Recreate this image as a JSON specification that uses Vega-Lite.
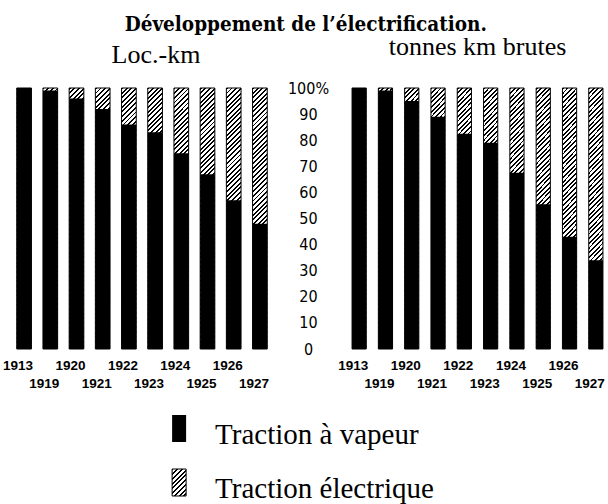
{
  "$schema": "https://vega.github.io/schema/vega-lite/v6.json",
  "background": "white",
  "padding": {"left": 2, "top": 14, "right": 0, "bottom": 0},
  "title": {"text": "Développement de l’électrification.", "font": "DejaVu Serif Condensed, DejaVu Serif", "fontSize": 20.5, "fontWeight": "bold", "color": "black", "anchor": "middle", "offset": -1},
  "params": [
    {"name": "hatch", "value": {
      "gradient": "linear", "x1": 0, "y1": 0, "x2": 0.0593, "y2": 1.053,
      "stops": [
        {"offset": 0, "color": "#000"}, {"offset": 0.007, "color": "#000"}, {"offset": 0.007, "color": "#fff"}, {"offset": 0.017, "color": "#fff"},
        {"offset": 0.017, "color": "#000"}, {"offset": 0.024, "color": "#000"}, {"offset": 0.024, "color": "#fff"}, {"offset": 0.034, "color": "#fff"},
        {"offset": 0.034, "color": "#000"}, {"offset": 0.041, "color": "#000"}, {"offset": 0.041, "color": "#fff"}, {"offset": 0.051, "color": "#fff"},
        {"offset": 0.051, "color": "#000"}, {"offset": 0.058, "color": "#000"}, {"offset": 0.058, "color": "#fff"}, {"offset": 0.068, "color": "#fff"},
        {"offset": 0.068, "color": "#000"}, {"offset": 0.075, "color": "#000"}, {"offset": 0.075, "color": "#fff"}, {"offset": 0.085, "color": "#fff"},
        {"offset": 0.085, "color": "#000"}, {"offset": 0.092, "color": "#000"}, {"offset": 0.092, "color": "#fff"}, {"offset": 0.102, "color": "#fff"},
        {"offset": 0.102, "color": "#000"}, {"offset": 0.109, "color": "#000"}, {"offset": 0.109, "color": "#fff"}, {"offset": 0.119, "color": "#fff"},
        {"offset": 0.119, "color": "#000"}, {"offset": 0.126, "color": "#000"}, {"offset": 0.126, "color": "#fff"}, {"offset": 0.136, "color": "#fff"},
        {"offset": 0.136, "color": "#000"}, {"offset": 0.143, "color": "#000"}, {"offset": 0.143, "color": "#fff"}, {"offset": 0.153, "color": "#fff"},
        {"offset": 0.153, "color": "#000"}, {"offset": 0.16, "color": "#000"}, {"offset": 0.16, "color": "#fff"}, {"offset": 0.17, "color": "#fff"},
        {"offset": 0.17, "color": "#000"}, {"offset": 0.177, "color": "#000"}, {"offset": 0.177, "color": "#fff"}, {"offset": 0.187, "color": "#fff"},
        {"offset": 0.187, "color": "#000"}, {"offset": 0.194, "color": "#000"}, {"offset": 0.194, "color": "#fff"}, {"offset": 0.204, "color": "#fff"},
        {"offset": 0.204, "color": "#000"}, {"offset": 0.211, "color": "#000"}, {"offset": 0.211, "color": "#fff"}, {"offset": 0.221, "color": "#fff"},
        {"offset": 0.221, "color": "#000"}, {"offset": 0.228, "color": "#000"}, {"offset": 0.228, "color": "#fff"}, {"offset": 0.238, "color": "#fff"},
        {"offset": 0.238, "color": "#000"}, {"offset": 0.245, "color": "#000"}, {"offset": 0.245, "color": "#fff"}, {"offset": 0.255, "color": "#fff"},
        {"offset": 0.255, "color": "#000"}, {"offset": 0.262, "color": "#000"}, {"offset": 0.262, "color": "#fff"}, {"offset": 0.272, "color": "#fff"},
        {"offset": 0.272, "color": "#000"}, {"offset": 0.279, "color": "#000"}, {"offset": 0.279, "color": "#fff"}, {"offset": 0.289, "color": "#fff"},
        {"offset": 0.289, "color": "#000"}, {"offset": 0.296, "color": "#000"}, {"offset": 0.296, "color": "#fff"}, {"offset": 0.306, "color": "#fff"},
        {"offset": 0.306, "color": "#000"}, {"offset": 0.313, "color": "#000"}, {"offset": 0.313, "color": "#fff"}, {"offset": 0.323, "color": "#fff"},
        {"offset": 0.323, "color": "#000"}, {"offset": 0.33, "color": "#000"}, {"offset": 0.33, "color": "#fff"}, {"offset": 0.34, "color": "#fff"},
        {"offset": 0.34, "color": "#000"}, {"offset": 0.347, "color": "#000"}, {"offset": 0.347, "color": "#fff"}, {"offset": 0.357, "color": "#fff"},
        {"offset": 0.357, "color": "#000"}, {"offset": 0.364, "color": "#000"}, {"offset": 0.364, "color": "#fff"}, {"offset": 0.374, "color": "#fff"},
        {"offset": 0.374, "color": "#000"}, {"offset": 0.381, "color": "#000"}, {"offset": 0.381, "color": "#fff"}, {"offset": 0.391, "color": "#fff"},
        {"offset": 0.391, "color": "#000"}, {"offset": 0.398, "color": "#000"}, {"offset": 0.398, "color": "#fff"}, {"offset": 0.408, "color": "#fff"},
        {"offset": 0.408, "color": "#000"}, {"offset": 0.415, "color": "#000"}, {"offset": 0.415, "color": "#fff"}, {"offset": 0.425, "color": "#fff"},
        {"offset": 0.425, "color": "#000"}, {"offset": 0.432, "color": "#000"}, {"offset": 0.432, "color": "#fff"}, {"offset": 0.442, "color": "#fff"},
        {"offset": 0.442, "color": "#000"}, {"offset": 0.449, "color": "#000"}, {"offset": 0.449, "color": "#fff"}, {"offset": 0.459, "color": "#fff"},
        {"offset": 0.459, "color": "#000"}, {"offset": 0.466, "color": "#000"}, {"offset": 0.466, "color": "#fff"}, {"offset": 0.476, "color": "#fff"},
        {"offset": 0.476, "color": "#000"}, {"offset": 0.483, "color": "#000"}, {"offset": 0.483, "color": "#fff"}, {"offset": 0.493, "color": "#fff"},
        {"offset": 0.493, "color": "#000"}, {"offset": 0.5, "color": "#000"}, {"offset": 0.5, "color": "#fff"}, {"offset": 0.51, "color": "#fff"},
        {"offset": 0.51, "color": "#000"}, {"offset": 0.517, "color": "#000"}, {"offset": 0.517, "color": "#fff"}, {"offset": 0.527, "color": "#fff"},
        {"offset": 0.527, "color": "#000"}, {"offset": 0.534, "color": "#000"}, {"offset": 0.534, "color": "#fff"}, {"offset": 0.544, "color": "#fff"},
        {"offset": 0.544, "color": "#000"}, {"offset": 0.551, "color": "#000"}, {"offset": 0.551, "color": "#fff"}, {"offset": 0.561, "color": "#fff"},
        {"offset": 0.561, "color": "#000"}, {"offset": 0.568, "color": "#000"}, {"offset": 0.568, "color": "#fff"}, {"offset": 0.578, "color": "#fff"},
        {"offset": 0.578, "color": "#000"}, {"offset": 0.585, "color": "#000"}, {"offset": 0.585, "color": "#fff"}, {"offset": 0.595, "color": "#fff"},
        {"offset": 0.595, "color": "#000"}, {"offset": 0.602, "color": "#000"}, {"offset": 0.602, "color": "#fff"}, {"offset": 0.612, "color": "#fff"},
        {"offset": 0.612, "color": "#000"}, {"offset": 0.619, "color": "#000"}, {"offset": 0.619, "color": "#fff"}, {"offset": 0.629, "color": "#fff"},
        {"offset": 0.629, "color": "#000"}, {"offset": 0.636, "color": "#000"}, {"offset": 0.636, "color": "#fff"}, {"offset": 0.646, "color": "#fff"},
        {"offset": 0.646, "color": "#000"}, {"offset": 0.653, "color": "#000"}, {"offset": 0.653, "color": "#fff"}, {"offset": 0.663, "color": "#fff"},
        {"offset": 0.663, "color": "#000"}, {"offset": 0.67, "color": "#000"}, {"offset": 0.67, "color": "#fff"}, {"offset": 0.68, "color": "#fff"},
        {"offset": 0.68, "color": "#000"}, {"offset": 0.687, "color": "#000"}, {"offset": 0.687, "color": "#fff"}, {"offset": 0.697, "color": "#fff"},
        {"offset": 0.697, "color": "#000"}, {"offset": 0.704, "color": "#000"}, {"offset": 0.704, "color": "#fff"}, {"offset": 0.714, "color": "#fff"},
        {"offset": 0.714, "color": "#000"}, {"offset": 0.721, "color": "#000"}, {"offset": 0.721, "color": "#fff"}, {"offset": 0.731, "color": "#fff"},
        {"offset": 0.731, "color": "#000"}, {"offset": 0.738, "color": "#000"}, {"offset": 0.738, "color": "#fff"}, {"offset": 0.748, "color": "#fff"},
        {"offset": 0.748, "color": "#000"}, {"offset": 0.755, "color": "#000"}, {"offset": 0.755, "color": "#fff"}, {"offset": 0.765, "color": "#fff"},
        {"offset": 0.765, "color": "#000"}, {"offset": 0.772, "color": "#000"}, {"offset": 0.772, "color": "#fff"}, {"offset": 0.782, "color": "#fff"},
        {"offset": 0.782, "color": "#000"}, {"offset": 0.789, "color": "#000"}, {"offset": 0.789, "color": "#fff"}, {"offset": 0.799, "color": "#fff"},
        {"offset": 0.799, "color": "#000"}, {"offset": 0.806, "color": "#000"}, {"offset": 0.806, "color": "#fff"}, {"offset": 0.816, "color": "#fff"},
        {"offset": 0.816, "color": "#000"}, {"offset": 0.823, "color": "#000"}, {"offset": 0.823, "color": "#fff"}, {"offset": 0.833, "color": "#fff"},
        {"offset": 0.833, "color": "#000"}, {"offset": 0.84, "color": "#000"}, {"offset": 0.84, "color": "#fff"}, {"offset": 0.85, "color": "#fff"},
        {"offset": 0.85, "color": "#000"}, {"offset": 0.857, "color": "#000"}, {"offset": 0.857, "color": "#fff"}, {"offset": 0.867, "color": "#fff"},
        {"offset": 0.867, "color": "#000"}, {"offset": 0.874, "color": "#000"}, {"offset": 0.874, "color": "#fff"}, {"offset": 0.884, "color": "#fff"},
        {"offset": 0.884, "color": "#000"}, {"offset": 0.891, "color": "#000"}, {"offset": 0.891, "color": "#fff"}, {"offset": 0.901, "color": "#fff"},
        {"offset": 0.901, "color": "#000"}, {"offset": 0.908, "color": "#000"}, {"offset": 0.908, "color": "#fff"}, {"offset": 0.918, "color": "#fff"},
        {"offset": 0.918, "color": "#000"}, {"offset": 0.925, "color": "#000"}, {"offset": 0.925, "color": "#fff"}, {"offset": 0.935, "color": "#fff"},
        {"offset": 0.935, "color": "#000"}, {"offset": 0.942, "color": "#000"}, {"offset": 0.942, "color": "#fff"}, {"offset": 0.952, "color": "#fff"},
        {"offset": 0.952, "color": "#000"}, {"offset": 0.959, "color": "#000"}, {"offset": 0.959, "color": "#fff"}, {"offset": 0.969, "color": "#fff"},
        {"offset": 0.969, "color": "#000"}, {"offset": 0.976, "color": "#000"}, {"offset": 0.976, "color": "#fff"}, {"offset": 0.986, "color": "#fff"},
        {"offset": 0.986, "color": "#000"}, {"offset": 0.993, "color": "#000"}, {"offset": 0.993, "color": "#fff"}, {"offset": 1, "color": "#fff"}
      ]
    }},
    {"name": "hatchsmall", "value": {
      "gradient": "linear", "x1": 0, "y1": 0, "x2": 0.6205, "y2": 1.1968,
      "stops": [
        {"offset": 0, "color": "#000"}, {"offset": 0.046, "color": "#000"}, {"offset": 0.046, "color": "#fff"}, {"offset": 0.115, "color": "#fff"},
        {"offset": 0.115, "color": "#000"}, {"offset": 0.161, "color": "#000"}, {"offset": 0.161, "color": "#fff"}, {"offset": 0.23, "color": "#fff"},
        {"offset": 0.23, "color": "#000"}, {"offset": 0.276, "color": "#000"}, {"offset": 0.276, "color": "#fff"}, {"offset": 0.345, "color": "#fff"},
        {"offset": 0.345, "color": "#000"}, {"offset": 0.391, "color": "#000"}, {"offset": 0.391, "color": "#fff"}, {"offset": 0.46, "color": "#fff"},
        {"offset": 0.46, "color": "#000"}, {"offset": 0.506, "color": "#000"}, {"offset": 0.506, "color": "#fff"}, {"offset": 0.575, "color": "#fff"},
        {"offset": 0.575, "color": "#000"}, {"offset": 0.621, "color": "#000"}, {"offset": 0.621, "color": "#fff"}, {"offset": 0.69, "color": "#fff"},
        {"offset": 0.69, "color": "#000"}, {"offset": 0.736, "color": "#000"}, {"offset": 0.736, "color": "#fff"}, {"offset": 0.805, "color": "#fff"},
        {"offset": 0.805, "color": "#000"}, {"offset": 0.851, "color": "#000"}, {"offset": 0.851, "color": "#fff"}, {"offset": 0.92, "color": "#fff"},
        {"offset": 0.92, "color": "#000"}, {"offset": 0.966, "color": "#000"}, {"offset": 0.966, "color": "#fff"}, {"offset": 1, "color": "#fff"}
      ]
    }}
  ],
  "datasets": {
    "bars": [
      {"panel": "Loc.-km", "year": "1913", "steam": 100, "electric": 0},
      {"panel": "Loc.-km", "year": "1919", "steam": 99, "electric": 1},
      {"panel": "Loc.-km", "year": "1920", "steam": 96, "electric": 4},
      {"panel": "Loc.-km", "year": "1921", "steam": 92, "electric": 8},
      {"panel": "Loc.-km", "year": "1922", "steam": 86, "electric": 14},
      {"panel": "Loc.-km", "year": "1923", "steam": 83, "electric": 17},
      {"panel": "Loc.-km", "year": "1924", "steam": 75, "electric": 25},
      {"panel": "Loc.-km", "year": "1925", "steam": 67, "electric": 33},
      {"panel": "Loc.-km", "year": "1926", "steam": 57, "electric": 43},
      {"panel": "Loc.-km", "year": "1927", "steam": 48, "electric": 52},
      {"panel": "tonnes km brutes", "year": "1913", "steam": 100, "electric": 0},
      {"panel": "tonnes km brutes", "year": "1919", "steam": 99, "electric": 1},
      {"panel": "tonnes km brutes", "year": "1920", "steam": 95, "electric": 5},
      {"panel": "tonnes km brutes", "year": "1921", "steam": 89, "electric": 11},
      {"panel": "tonnes km brutes", "year": "1922", "steam": 82.5, "electric": 17.5},
      {"panel": "tonnes km brutes", "year": "1923", "steam": 79, "electric": 21},
      {"panel": "tonnes km brutes", "year": "1924", "steam": 67.5, "electric": 32.5},
      {"panel": "tonnes km brutes", "year": "1925", "steam": 55.5, "electric": 44.5},
      {"panel": "tonnes km brutes", "year": "1926", "steam": 43, "electric": 57},
      {"panel": "tonnes km brutes", "year": "1927", "steam": 34, "electric": 66}
    ],
    "legend": [
      {"label": "Traction à vapeur", "kind": "steam"},
      {"label": "Traction électrique", "kind": "electric"}
    ]
  },
  "config": {
    "view": {"stroke": null},
    "axis": {"grid": false}
  },
  "spacing": 25,
  "center": true,
  "vconcat": [
    {
      "spacing": 14,
      "hconcat": [
        {
          "width": 262,
          "height": 261,
          "title": {"text": "Loc.-km", "font": "Liberation Serif", "fontSize": 26, "fontWeight": "normal", "color": "black", "baseline": "alphabetic", "offset": -1, "dx": 14},
          "data": {"name": "bars"},
          "transform": [{"filter": "datum.panel == 'Loc.-km'"}],
          "encoding": {
            "x": {
              "field": "year", "type": "ordinal",
              "scale": {"paddingInner": 0.44, "paddingOuter": 0.22},
              "axis": {
                "title": null, "labelAngle": 0, "domain": false, "ticks": false, "tickSize": 0,
                "labelFont": "Liberation Sans", "labelFontSize": 13.5, "labelFontWeight": "bold", "labelColor": "black",
                "labelBaseline": "top", "labelOffset": -6,
                "labelPadding": {"condition": {"test": "indexof(['1919','1921','1923','1925','1927'], datum.value) >= 0", "value": 27}, "value": 9}
              }
            }
          },
          "layer": [
            {
              "transform": [{"fold": ["steam", "electric"]}],
              "mark": {"type": "bar", "fill": {"expr": "hatch"}, "stroke": "black", "strokeWidth": 1},
              "encoding": {"y": {"aggregate": "sum", "field": "value", "type": "quantitative", "scale": {"domain": [0, 100], "nice": false}, "axis": null}}
            },
            {
              "mark": {"type": "bar", "fill": "black"},
              "encoding": {"y": {"field": "steam", "type": "quantitative", "scale": {"domain": [0, 100], "nice": false}, "axis": null}}
            }
          ]
        },
        {
          "width": 263,
          "height": 261,
          "title": {"text": "tonnes km brutes", "font": "Liberation Serif", "fontSize": 26, "fontWeight": "normal", "color": "black", "baseline": "alphabetic", "offset": -1},
          "data": {"name": "bars"},
          "transform": [{"filter": "datum.panel == 'tonnes km brutes'"}],
          "encoding": {
            "x": {
              "field": "year", "type": "ordinal",
              "scale": {"paddingInner": 0.46, "paddingOuter": 0.23},
              "axis": {
                "title": null, "labelAngle": 0, "domain": false, "ticks": false, "tickSize": 0,
                "labelFont": "Liberation Sans", "labelFontSize": 13.5, "labelFontWeight": "bold", "labelColor": "black",
                "labelBaseline": "top", "labelOffset": -6,
                "labelPadding": {"condition": {"test": "indexof(['1919','1921','1923','1925','1927'], datum.value) >= 0", "value": 27}, "value": 9}
              }
            }
          },
          "layer": [
            {
              "transform": [{"fold": ["steam", "electric"]}],
              "mark": {"type": "bar", "fill": {"expr": "hatch"}, "stroke": "black", "strokeWidth": 1},
              "encoding": {"y": {"aggregate": "sum", "field": "value", "type": "quantitative", "scale": {"domain": [0, 100], "nice": false},
                "axis": {"title": null, "values": [0, 10, 20, 30, 40, 50, 60, 70, 80, 90, 100], "labelExpr": "datum.value == 100 ? '100%' : datum.label", "domain": false, "ticks": false, "tickSize": 0, "grid": false, "labelAlign": "center", "labelBaseline": "middle", "labelPadding": 38, "labelFont": "DejaVu Sans Condensed", "labelFontSize": 16, "labelColor": "black"}}}
            },
            {
              "mark": {"type": "bar", "fill": "black"},
              "encoding": {"y": {"field": "steam", "type": "quantitative", "scale": {"domain": [0, 100], "nice": false},
                "axis": {"title": null, "values": [0, 10, 20, 30, 40, 50, 60, 70, 80, 90, 100], "labelExpr": "datum.value == 100 ? '100%' : datum.label", "domain": false, "ticks": false, "tickSize": 0, "grid": false, "labelAlign": "center", "labelBaseline": "middle", "labelPadding": 38, "labelFont": "DejaVu Sans Condensed", "labelFontSize": 16, "labelColor": "black"}}}
            }
          ]
        }
      ]
    },
    {
      "width": 14,
      "height": 81,
      "data": {"name": "legend"},
      "encoding": {
        "y": {"field": "label", "type": "nominal", "sort": null, "scale": {"domain": ["Traction à vapeur", "Traction électrique"], "paddingInner": 0.5, "paddingOuter": 0}, "axis": null}
      },
      "layer": [
        {"transform": [{"filter": "datum.kind == 'steam'"}], "mark": {"type": "bar", "fill": "black"}},
        {"transform": [{"filter": "datum.kind == 'electric'"}], "mark": {"type": "bar", "fill": {"expr": "hatchsmall"}, "stroke": "black", "strokeWidth": 1}},
        {"mark": {"type": "text", "align": "left", "baseline": "alphabetic", "dx": 36, "dy": 15.5, "font": "Liberation Serif", "fontSize": 29, "color": "black"}, "encoding": {"text": {"field": "label"}}},
        {"mark": {"type": "text", "align": "left", "baseline": "alphabetic", "dx": 50, "dy": 15.5, "font": "Liberation Serif", "fontSize": 29, "opacity": 0}, "encoding": {"text": {"field": "label"}}}
      ]
    }
  ]
}
